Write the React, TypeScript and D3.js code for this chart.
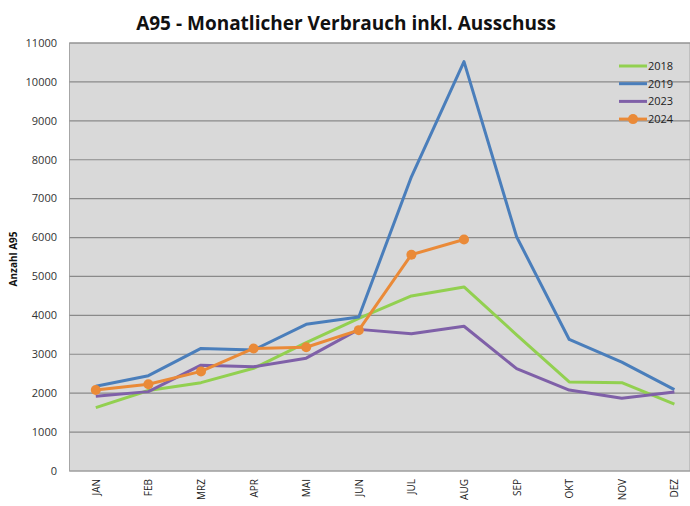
import React from "react";
import * as d3 from "d3";

const months = ["JAN", "FEB", "MRZ", "APR", "MAI", "JUN", "JUL", "AUG", "SEP", "OKT", "NOV", "DEZ"];
const yTicks = [0, 1000, 2000, 3000, 4000, 5000, 6000, 7000, 8000, 9000, 10000, 11000];
const s2018 = [1630, 2070, 2270, 2640, 3300, 3920, 4500, 4730, 3500, 2290, 2270, 1720];
const s2019 = [2180, 2450, 3150, 3110, 3770, 3960, 7560, 10520, 6020, 3380, 2800, 2090];
const s2023 = [1920, 2040, 2720, 2680, 2900, 3640, 3530, 3720, 2630, 2080, 1870, 2030];
const s2024 = [2080, 2230, 2560, 3150, 3180, 3620, 5560, 5950];
const seriesNames = ["2018", "2019", "2023", "2024"];
const seriesColors = ["#92d050", "#4a7ebb", "#7f60a8", "#ea8a38"];

export default function App() {
  const W = 690, H = 506;
  const left = 69.5, top = 43, bottom = 471;
  const bw = 52.6;
  const x = d3.scaleBand<string>().domain(months).range([left, left + bw * 12]).padding(0);
  const cx = (m: string) => (x(m) as number) + x.bandwidth() / 2;
  const y = d3.scaleLinear().domain([0, 11000]).range([bottom, top]);
  const line = d3.line<number>().x((_, i) => cx(months[i])).y((d) => y(d));
  const all = [s2018, s2019, s2023, s2024];
  const font = "'Open Sans', 'Liberation Sans', sans-serif";

  return (
    <svg width={W} height={H} style={{ position: "absolute", left: 0, top: 0, background: "#fff" }} fontFamily={font}>
      <rect x={0} y={0} width={W} height={H} fill="#fff" />
      <text x={346} y={30} textAnchor="middle" fontSize={19} fontWeight="bold" fill="#111">
        A95 - Monatlicher Verbrauch inkl. Ausschuss
      </text>
      <rect x={left} y={top} width={W - left} height={bottom - top} fill="#d9d9d9" stroke="#a6a6a6" strokeWidth={1} />
      {yTicks.map((t) => (
        <g key={t}>
          {t > 0 && <line x1={left} x2={W} y1={y(t)} y2={y(t)} stroke="#8a8a8a" strokeWidth={1.2} />}
          <text x={57} y={y(t)} dy="0.35em" textAnchor="end" fontSize={11} fill="#333">{t}</text>
        </g>
      ))}
      <line x1={left} x2={W} y1={bottom} y2={bottom} stroke="#9a9a9a" strokeWidth={1.2} />
      <text transform={`translate(17,259) rotate(-90)`} textAnchor="middle" fontSize={10} fontWeight="bold" fill="#111">
        Anzahl A95
      </text>
      {months.map((m) => (
        <text key={m} transform={`translate(${cx(m) + 4},479) rotate(-90)`} textAnchor="end" fontSize={10} fill="#222">
          {m}
        </text>
      ))}
      {all.map((s, i) => (
        <path key={i} d={line(s) as string} fill="none" stroke={seriesColors[i]} strokeWidth={3} strokeLinejoin="round" />
      ))}
      {s2024.map((v, i) => (
        <circle key={i} cx={cx(months[i])} cy={y(v)} r={5} fill={seriesColors[3]} />
      ))}
      {seriesNames.map((n, i) => {
        const ly = 66 + i * 17.7;
        return (
          <g key={n}>
            <line x1={619} x2={647} y1={ly} y2={ly} stroke={seriesColors[i]} strokeWidth={3} />
            {i === 3 && <circle cx={633} cy={ly} r={5} fill={seriesColors[3]} />}
            <text x={648} y={ly} dy="0.36em" fontSize={11} fill="#222">{n}</text>
          </g>
        );
      })}
    </svg>
  );
}
